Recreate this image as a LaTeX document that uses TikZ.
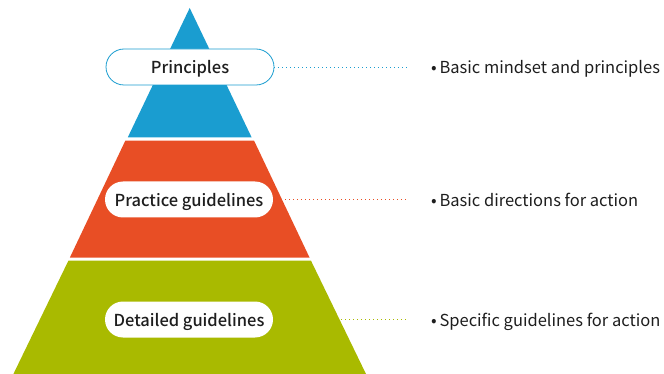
\documentclass[tikz,border=0pt]{standalone}
\usepackage{fontspec}
\setmainfont{Noto Sans CJK KR}
\newfontfamily\labelfont{Noto Sans CJK KR Medium}
\usepackage{xcolor}
\usetikzlibrary{positioning,calc}

\definecolor{pyrblue}{HTML}{1A9DD0}
\definecolor{pyrorange}{HTML}{E84E25}
\definecolor{pyrgreen}{HTML}{A9BA00}
\definecolor{labeltext}{HTML}{1E1E1E}

\tikzset{
	pill/.style={fill=white, rounded corners=18pt, minimum width=168pt,
		minimum height=36pt, inner sep=0pt, text height=14pt, text depth=0pt,
		font=\labelfont\fontsize{16.5}{19}\selectfont, text=labeltext},
	leader/.style={line width=0.8pt, dash pattern=on 0.8pt off 3.2pt},
	bullettext/.style={anchor=west, inner sep=0pt, text height=14pt, text depth=0pt,
		font=\fontsize{16.5}{19}\selectfont, text=labeltext}
}

\begin{document}
\begin{tikzpicture}[x=1pt,y=-1pt]
	\useasboundingbox (0,0) rectangle (664,374);
	
	% Layer 1: top triangle
	\coordinate (T) at (189.7,8);
	\fill[pyrblue] (T)--(251.6,137.3)--(127.8,137.3)--cycle;
	
	% Layer 2: middle band
	\fill[pyrorange] (125.3,140.7)--(254.1,140.7)--(309.6,257.7)--(69.8,257.7)--cycle;
	
	% Layer 3: bottom band
	\fill[pyrgreen] (68.4,260.7)--(311.0,260.7)--(366,374)--(13.4,374)--cycle;
	
	% labels on the pyramid
	\node[pill, draw=pyrblue, line width=0.8pt] (principles) at (190,67) {Principles};
	\node[pill] (practice) at (189,199.5) {Practice guidelines};
	\node[pill] (detailed) at (189,319.5) {Detailed guidelines};
	
	% leader ends
	\coordinate (e1) at (407,67);
	\coordinate (e2) at (407,199.5);
	\coordinate (e3) at (407,319.5);
	
	\draw[leader, pyrblue] (principles.east) -- (e1);
	\draw[leader, pyrorange] (practice.east) -- (e2);
	\draw[leader, pyrgreen] (detailed.east) -- (e3);
	
	% descriptions
	\node[bullettext] (mindset) at (431,67) {\textbullet\,Basic mindset and principles};
	\node[bullettext] (directions) at (431,199.5) {\textbullet\,Basic directions for action};
	\node[bullettext] (specific) at (431,319.5) {\textbullet\,Specific guidelines for action};
\end{tikzpicture}
\end{document}
